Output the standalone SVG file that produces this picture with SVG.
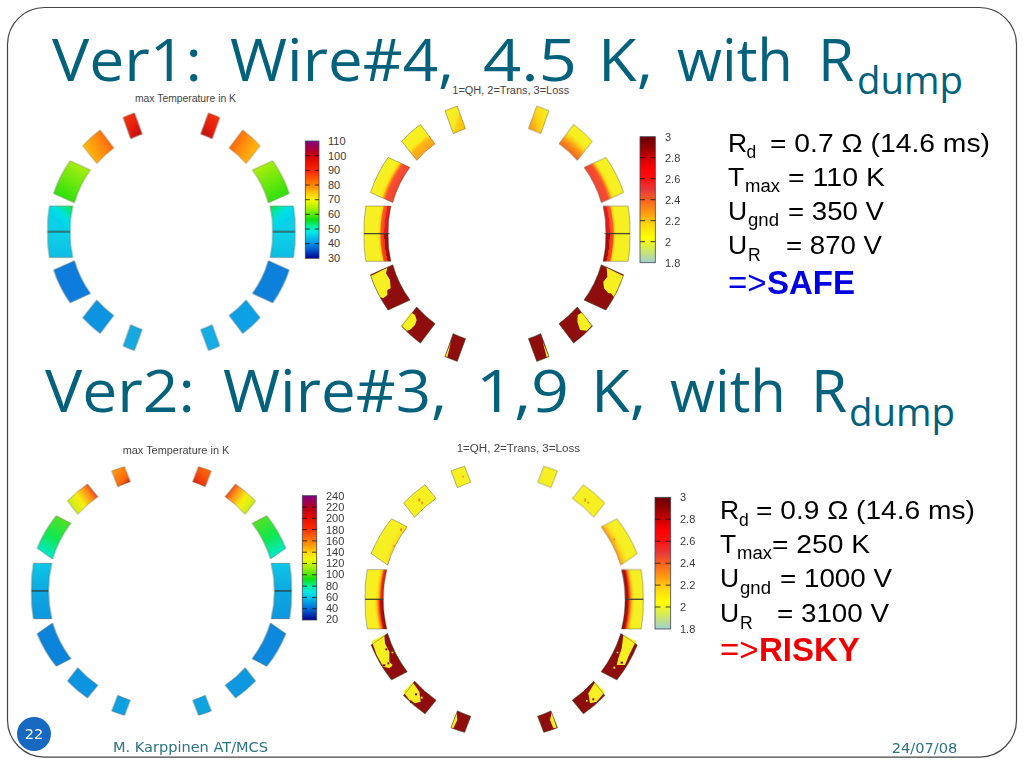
<svg xmlns="http://www.w3.org/2000/svg" width="1024" height="768" viewBox="0 0 1024 768">
<style>
.h{font-family:"Open Sans","Noto Sans",sans-serif;fill:#04617b;font-size:58.5px}
.hs{font-family:"Open Sans","Noto Sans",sans-serif;fill:#04617b;font-size:38px}
.t{font-family:"Liberation Sans",Arial,sans-serif;fill:#000;font-size:26.5px}
.ts{font-family:"Liberation Sans",Arial,sans-serif;fill:#000;font-size:17.5px}
.big{font-family:"Liberation Sans",Arial,sans-serif;font-size:33px}
.pt{font-family:"Liberation Sans",Arial,sans-serif;fill:#444;font-size:10px}
.cl{font-family:"Liberation Sans",Arial,sans-serif;fill:#3a3a3a;font-size:11px}
.f{font-family:"DejaVu Sans",sans-serif;fill:#2c7482;font-size:14px}
.b{stroke:#3a3a20;stroke-opacity:.5;stroke-width:.7}
.mid{stroke:#333;stroke-width:.9;fill:none}
.tick{stroke:#111;stroke-opacity:.75;stroke-width:1;fill:none}
.bar{stroke:#445;stroke-width:.8}
.y{fill:#f6f022}
.r{fill:#900808}
.o{fill:#f09018}
</style>
<defs>
<filter id="soft" x="-5%" y="-5%" width="110%" height="110%"><feGaussianBlur stdDeviation="0.35"/></filter>
<path id="a1" class="b" d="M-48.3-114.3A124 124 0 0 1-37-118.7L-29.3-97.7A102 102 0 0 0-40.7-93Z"/>
<path id="a2" class="b" d="M-88.7-86A124 124 0 0 1-71.3-101.7L-57.7-83.7A102 102 0 0 0-74.7-68.3Z"/>
<path id="a3" class="b" d="M-117.7-38.3A124 124 0 0 1-101.3-71L-81-61.7A102 102 0 0 0-97-29Z"/>
<path id="a4" class="b" d="M-122-25.7L-98.7-25.7A102 102 0 0 0-101.3 0L-123.7 0A124 124 0 0 1-122-25.7Z"/>
<path id="c1" class="b" d="M-49.7-120A130 130 0 0 1-37-124.3L-31.3-109.3A113.5 113.5 0 0 0-43.7-104.3Z"/>
<path id="c2" class="b" d="M-94-90A130 130 0 0 1-74-107L-63.7-94.3A113.5 113.5 0 0 0-83.7-76.7Z"/>
<path id="c3" class="b" d="M-124.3-42.7A130 130 0 0 1-105.3-75.3L-90.7-67.7A113.5 113.5 0 0 0-109-32Z"/>
<path id="c4" class="b" d="M-128-27.7L-109.7-27.7A113.5 113.5 0 0 0-113 0L-130 0A130 130 0 0 1-128-27.7Z"/>

<linearGradient id="tc" x1="0" y1="0" x2="0" y2="1">
<stop offset="0" stop-color="#800080"/><stop offset=".05" stop-color="#a00050"/><stop offset=".11" stop-color="#c00010"/><stop offset=".16" stop-color="#e00800"/><stop offset=".26" stop-color="#ff2800"/><stop offset=".38" stop-color="#ff8800"/><stop offset=".47" stop-color="#ffe000"/><stop offset=".51" stop-color="#f0f800"/><stop offset=".58" stop-color="#a0f000"/><stop offset=".67" stop-color="#10e010"/><stop offset=".73" stop-color="#00f0a0"/><stop offset=".78" stop-color="#00e8e8"/><stop offset=".85" stop-color="#00a8e8"/><stop offset=".92" stop-color="#0060d0"/><stop offset="1" stop-color="#000090"/>
</linearGradient>
<linearGradient id="lc" x1="0" y1="0" x2="0" y2="1">
<stop offset="0" stop-color="#6c0000"/><stop offset=".08" stop-color="#900000"/><stop offset=".17" stop-color="#d00000"/><stop offset=".25" stop-color="#ff0000"/><stop offset=".33" stop-color="#ff1010"/><stop offset=".42" stop-color="#e83838"/><stop offset=".5" stop-color="#f86020"/><stop offset=".6" stop-color="#ff9810"/><stop offset=".7" stop-color="#ffd810"/><stop offset=".8" stop-color="#ffff00"/><stop offset=".9" stop-color="#d0e860"/><stop offset="1" stop-color="#a0d0d0"/>
</linearGradient>

<linearGradient id="t1" x1="0" y1="0" x2="1" y2="1"><stop offset="0" stop-color="#f43c10"/><stop offset=".5" stop-color="#e82008"/><stop offset="1" stop-color="#b00810"/></linearGradient>
<linearGradient id="t2" x1="0" y1=".85" x2="1" y2=".3"><stop offset="0" stop-color="#ffcc10"/><stop offset=".5" stop-color="#ff9808"/><stop offset="1" stop-color="#ff5808"/></linearGradient>
<linearGradient id="t3" x1=".75" y1="0" x2=".25" y2="1"><stop offset="0" stop-color="#b8f008"/><stop offset="1" stop-color="#20e010"/></linearGradient>
<linearGradient id="t4" x1="1" y1="0" x2=".4" y2=".7"><stop offset="0" stop-color="#18e030"/><stop offset=".3" stop-color="#00e8a0"/><stop offset=".6" stop-color="#00e0e8"/><stop offset="1" stop-color="#08d0e8"/></linearGradient>
<linearGradient id="t5" x1="0" y1="0" x2="0" y2="1"><stop offset="0" stop-color="#10bce4"/><stop offset="1" stop-color="#08d4e8"/></linearGradient>

<linearGradient id="v1" x1="0" y1="0" x2="1" y2="1"><stop offset="0" stop-color="#ffa810"/><stop offset=".65" stop-color="#ff6808"/><stop offset="1" stop-color="#b00808"/></linearGradient>
<linearGradient id="v1r" x1="0" y1="0" x2="1" y2="1"><stop offset="0" stop-color="#ff7a08"/><stop offset=".7" stop-color="#f03808"/><stop offset="1" stop-color="#b81008"/></linearGradient>
<linearGradient id="v2" x1="0" y1="1" x2="1" y2=".3"><stop offset="0" stop-color="#a8e820"/><stop offset=".5" stop-color="#f8f010"/><stop offset=".78" stop-color="#ff9018"/><stop offset="1" stop-color="#e83020"/></linearGradient>
<linearGradient id="v3" x1=".7" y1="0" x2=".3" y2="1"><stop offset="0" stop-color="#58e020"/><stop offset=".5" stop-color="#10e850"/><stop offset="1" stop-color="#00e8e0"/></linearGradient>
<linearGradient id="v4" x1="0" y1="0" x2="0" y2="1"><stop offset="0" stop-color="#10c8e8"/><stop offset="1" stop-color="#08a8e0"/></linearGradient>
<linearGradient id="v5" x1="0" y1="0" x2="0" y2="1"><stop offset="0" stop-color="#0898e0"/><stop offset="1" stop-color="#08a8e0"/></linearGradient>

<radialGradient id="q4t" gradientUnits="userSpaceOnUse" cx="0" cy="0" r="124"><stop offset=".81" stop-color="#e01015"/><stop offset=".845" stop-color="#e82020"/><stop offset=".845" stop-color="#f04030"/><stop offset=".87" stop-color="#ff6020"/><stop offset=".88" stop-color="#ffd818"/><stop offset=".895" stop-color="#f6f022"/><stop offset="1" stop-color="#f6f022"/></radialGradient>
<radialGradient id="q4b" gradientUnits="userSpaceOnUse" cx="0" cy="0" r="124"><stop offset=".81" stop-color="#900808"/><stop offset=".845" stop-color="#b00808"/><stop offset=".845" stop-color="#e83020"/><stop offset=".87" stop-color="#ff5010"/><stop offset=".88" stop-color="#ffd818"/><stop offset=".895" stop-color="#f6f022"/><stop offset="1" stop-color="#f6f022"/></radialGradient>
<radialGradient id="q3" gradientUnits="userSpaceOnUse" cx="0" cy="0" r="124"><stop offset=".81" stop-color="#f04030"/><stop offset=".875" stop-color="#f85030"/><stop offset=".89" stop-color="#ff9018"/><stop offset=".905" stop-color="#ffe018"/><stop offset=".925" stop-color="#f6f022"/><stop offset="1" stop-color="#f6f022"/></radialGradient>
<radialGradient id="q2" gradientUnits="userSpaceOnUse" cx="0" cy="0" r="124"><stop offset=".81" stop-color="#ffa018"/><stop offset=".88" stop-color="#ffb818"/><stop offset=".9" stop-color="#ffe818"/><stop offset=".93" stop-color="#f6f022"/><stop offset="1" stop-color="#f6f022"/></radialGradient>
<radialGradient id="q2r" gradientUnits="userSpaceOnUse" cx="0" cy="0" r="124"><stop offset=".81" stop-color="#f06020"/><stop offset=".87" stop-color="#ff9818"/><stop offset=".9" stop-color="#ffd018"/><stop offset=".93" stop-color="#f6f022"/><stop offset="1" stop-color="#f6f022"/></radialGradient>
<linearGradient id="q1" x1="0" y1=".3" x2="1" y2=".7"><stop offset="0" stop-color="#f6f022"/><stop offset=".55" stop-color="#f6e820"/><stop offset=".62" stop-color="#ffd010"/><stop offset="1" stop-color="#ffc010"/></linearGradient>
<linearGradient id="q1r" x1="0" y1=".3" x2="1" y2=".7"><stop offset="0" stop-color="#f6f022"/><stop offset=".5" stop-color="#ffd818"/><stop offset="1" stop-color="#ff9818"/></linearGradient>

<radialGradient id="p4" gradientUnits="userSpaceOnUse" cx="0" cy="0" r="130"><stop offset=".87" stop-color="#d02010"/><stop offset=".885" stop-color="#e83018"/><stop offset=".9" stop-color="#ffb818"/><stop offset=".915" stop-color="#ffe818"/><stop offset=".93" stop-color="#f6f022"/><stop offset="1" stop-color="#f6f022"/></radialGradient>
<radialGradient id="p4r" gradientUnits="userSpaceOnUse" cx="0" cy="0" r="130"><stop offset=".87" stop-color="#900808"/><stop offset=".89" stop-color="#c01010"/><stop offset=".905" stop-color="#ff7010"/><stop offset=".92" stop-color="#ffd018"/><stop offset=".935" stop-color="#f6f022"/><stop offset="1" stop-color="#f6f022"/></radialGradient>
<radialGradient id="p3" gradientUnits="userSpaceOnUse" cx="0" cy="0" r="130"><stop offset=".87" stop-color="#ffc818"/><stop offset=".89" stop-color="#f6e820"/><stop offset=".92" stop-color="#f6f022"/><stop offset="1" stop-color="#f6f022"/></radialGradient>
<radialGradient id="p3r" gradientUnits="userSpaceOnUse" cx="0" cy="0" r="130"><stop offset=".87" stop-color="#ff9018"/><stop offset=".89" stop-color="#ffc018"/><stop offset=".91" stop-color="#f8e020"/><stop offset=".935" stop-color="#f6f022"/><stop offset="1" stop-color="#f6f022"/></radialGradient>
</defs>

<rect id="slide-frame" x="7.5" y="7.5" width="1009" height="749.6" rx="37" ry="37" fill="#fff" stroke="#444" stroke-width="1.2"/>

<g id="title-1">
<text class="h" y="80.5" x="52" textLength="150" lengthAdjust="spacingAndGlyphs">Ver1:</text>
<text class="h" y="80.5" x="230" textLength="224" lengthAdjust="spacingAndGlyphs">Wire#4,</text>
<text class="h" y="80.5" x="483" textLength="94" lengthAdjust="spacingAndGlyphs">4.5</text>
<text class="h" y="80.5" x="598" textLength="55" lengthAdjust="spacingAndGlyphs">K,</text>
<text class="h" y="80.5" x="677" textLength="116" lengthAdjust="spacingAndGlyphs">with</text>
<text class="h" y="80.5" x="818">R</text>
<text class="hs" x="857" y="93.5" textLength="106" lengthAdjust="spacingAndGlyphs">dump</text>
</g>
<g id="title-2">
<text class="h" y="412" x="45" textLength="150" lengthAdjust="spacingAndGlyphs">Ver2:</text>
<text class="h" y="412" x="223" textLength="224" lengthAdjust="spacingAndGlyphs">Wire#3,</text>
<text class="h" y="412" x="476" textLength="93" lengthAdjust="spacingAndGlyphs">1,9</text>
<text class="h" y="412" x="591" textLength="55" lengthAdjust="spacingAndGlyphs">K,</text>
<text class="h" y="412" x="670" textLength="116" lengthAdjust="spacingAndGlyphs">with</text>
<text class="h" y="412" x="811">R</text>
<text class="hs" x="849" y="426" textLength="106" lengthAdjust="spacingAndGlyphs">dump</text>
</g>

<g id="plot-temp-1">
<text class="pt" x="135" y="102" textLength="101" lengthAdjust="spacingAndGlyphs">max Temperature in K</text>
<g filter="url(#soft)" transform="translate(171.4,231.7)">
<use href="#a1" fill="url(#t1)"/><use href="#a2" fill="url(#t2)"/><use href="#a3" fill="url(#t3)"/><use href="#a4" fill="url(#t4)"/>
<use href="#a1" fill="url(#t1)" transform="scale(-1,1)"/><use href="#a2" fill="url(#t2)" transform="scale(-1,1)"/><use href="#a3" fill="url(#t3)" transform="scale(-1,1)"/><use href="#a4" fill="url(#t4)" transform="scale(-1,1)"/>
<use href="#a1" fill="#18a8e0" transform="scale(1,-1)"/><use href="#a2" fill="#1094e0" transform="scale(1,-1)"/><use href="#a3" fill="#0c7cdc" transform="scale(1,-1)"/><use href="#a4" fill="url(#t5)" transform="scale(1,-1)"/>
<use href="#a1" fill="#14ace4" transform="scale(-1,-1)"/><use href="#a2" fill="#10a0e4" transform="scale(-1,-1)"/><use href="#a3" fill="#0c80dc" transform="scale(-1,-1)"/><use href="#a4" fill="url(#t5)" transform="scale(-1,-1)"/>
<path class="mid" d="M-123.7 0H-101.3M101.3 0H123.7"/>
</g>
<rect class="bar" x="305.3" y="141" width="13.7" height="117.3" fill="url(#tc)"/>
<path class="tick" d="M305.3 155.7h4.5m5 0h4.2M305.3 170.3h4.5m5 0h4.2M305.3 185h4.5m5 0h4.2M305.3 199.7h4.5m5 0h4.2M305.3 214.3h4.5m5 0h4.2M305.3 229h4.5m5 0h4.2M305.3 243.7h4.5m5 0h4.2"/>
<g class="cl"><text x="328" y="145">110</text><text x="328" y="159.6">100</text><text x="328" y="174.2">90</text><text x="328" y="188.8">80</text><text x="328" y="203.4">70</text><text x="328" y="218">60</text><text x="328" y="232.6">50</text><text x="328" y="247.2">40</text><text x="328" y="261.8">30</text></g>
</g>

<g id="plot-loss-1">
<text class="pt" x="452.3" y="94" textLength="117" lengthAdjust="spacingAndGlyphs">1=QH, 2=Trans, 3=Loss</text>
<g filter="url(#soft)">
<g transform="translate(497,233.7) scale(1.075)">
<use href="#a1" fill="url(#q1)"/><use href="#a2" fill="url(#q2)"/><use href="#a3" fill="url(#q3)"/><use href="#a4" fill="url(#q4t)"/>
<use href="#a1" fill="url(#q1r)" transform="scale(-1,1)"/><use href="#a2" fill="url(#q2r)" transform="scale(-1,1)"/><use href="#a3" fill="url(#q3)" transform="scale(-1,1)"/><use href="#a4" fill="url(#q4t)" transform="scale(-1,1)"/>
<use href="#a1" class="r" transform="scale(1,-1)"/><use href="#a2" class="r" transform="scale(1,-1)"/><use href="#a3" class="r" transform="scale(1,-1)"/><use href="#a4" fill="url(#q4b)" transform="scale(1,-1)"/>
<use href="#a1" class="r" transform="scale(-1,-1)"/><use href="#a2" class="r" transform="scale(-1,-1)"/><use href="#a3" class="r" transform="scale(-1,-1)"/><use href="#a4" fill="url(#q4b)" transform="scale(-1,-1)"/>
</g>
<g transform="translate(350,80) scale(.33333)">
<polygon class="y" points="62,588 112,563 108,580 120,600 122,625 112,630 112,645 100,655 90,651 75.5,621"/>
<polygon class="y" points="820,588 770,563 772,590 760,605 762,625 775,640 782,640 792,651 806,621"/>
<polygon class="y" points="155,737 183,697 195,705 200,720 195,735 180,750 170,752"/>
<polygon class="y" points="725,737 697,697 683,705 682,725 690,750 710,752"/>
<polygon class="y" points="286,828 303,785 292,832"/>
<polygon class="y" points="578,785 596,828 590,832"/>
</g>
<g transform="translate(497,233.7) scale(1.075)" fill="none">
<use href="#a1" transform="scale(1,-1)"/><use href="#a2" transform="scale(1,-1)"/><use href="#a3" transform="scale(1,-1)"/>
<use href="#a1" transform="scale(-1,-1)"/><use href="#a2" transform="scale(-1,-1)"/><use href="#a3" transform="scale(-1,-1)"/>
<path class="mid" d="M-123.7 0H-100M100 0H123.7"/>
</g>
</g>
<rect class="bar" x="640" y="136.7" width="15.3" height="126" fill="url(#lc)"/>
<path class="tick" d="M640 157.7h5m5.5 0h4.8M640 178.7h5m5.5 0h4.8M640 199.7h5m5.5 0h4.8M640 220.7h5m5.5 0h4.8M640 241.7h5m5.5 0h4.8"/>
<g class="cl"><text x="665" y="141">3</text><text x="665" y="162">2.8</text><text x="665" y="183">2.6</text><text x="665" y="204">2.4</text><text x="665" y="225">2.2</text><text x="665" y="246">2</text><text x="665" y="267">1.8</text></g>
</g>

<g id="plot-temp-2">
<text class="pt" x="122.7" y="453.7" textLength="106.6" lengthAdjust="spacingAndGlyphs">max Temperature in K</text>
<g filter="url(#soft)" transform="translate(161.5,591)">
<use href="#c1" fill="url(#v1)"/><use href="#c2" fill="url(#v2)"/><use href="#c3" fill="url(#v3)"/><use href="#c4" fill="url(#v4)"/>
<use href="#c1" fill="url(#v1r)" transform="scale(-1,1)"/><use href="#c2" fill="url(#v2)" transform="scale(-1,1)"/><use href="#c3" fill="url(#v3)" transform="scale(-1,1)"/><use href="#c4" fill="url(#v4)" transform="scale(-1,1)"/>
<use href="#c1" fill="#10a0e0" transform="scale(1,-1)"/><use href="#c2" fill="#0c94e0" transform="scale(1,-1)"/><use href="#c3" fill="#0c84dc" transform="scale(1,-1)"/><use href="#c4" fill="url(#v5)" transform="scale(1,-1)"/>
<use href="#c1" fill="#10a4e0" transform="scale(-1,-1)"/><use href="#c2" fill="#0c98e0" transform="scale(-1,-1)"/><use href="#c3" fill="#0c88dc" transform="scale(-1,-1)"/><use href="#c4" fill="url(#v5)" transform="scale(-1,-1)"/>
<path class="mid" d="M-130 0H-113M113 0H130"/>
</g>
<rect class="bar" x="302.3" y="495.7" width="14.4" height="124.3" fill="url(#tc)"/>
<path class="tick" d="M302.3 507h4.7m5 0h4.7M302.3 518.3h4.7m5 0h4.7M302.3 529.6h4.7m5 0h4.7M302.3 540.9h4.7m5 0h4.7M302.3 552.2h4.7m5 0h4.7M302.3 563.5h4.7m5 0h4.7M302.3 574.8h4.7m5 0h4.7M302.3 586.1h4.7m5 0h4.7M302.3 597.4h4.7m5 0h4.7M302.3 608.7h4.7m5 0h4.7"/>
<g class="cl"><text x="326" y="500">240</text><text x="326" y="511.2">220</text><text x="326" y="522.4">200</text><text x="326" y="533.6">180</text><text x="326" y="544.8">160</text><text x="326" y="556">140</text><text x="326" y="567.2">120</text><text x="326" y="578.4">100</text><text x="326" y="589.6">80</text><text x="326" y="600.8">60</text><text x="326" y="612">40</text><text x="326" y="623.2">20</text></g>
</g>

<g id="plot-loss-2">
<text class="pt" x="456.7" y="452.3" textLength="123.3" lengthAdjust="spacingAndGlyphs">1=QH, 2=Trans, 3=Loss</text>
<g filter="url(#soft)">
<g transform="translate(504.2,599.3) scale(1.07)">
<use href="#c1" class="y"/><use href="#c2" class="y"/><use href="#c3" fill="url(#p3)"/><use href="#c4" fill="url(#p4)"/>
<use href="#c1" class="y" transform="scale(-1,1)"/><use href="#c2" class="y" transform="scale(-1,1)"/><use href="#c3" fill="url(#p3r)" transform="scale(-1,1)"/><use href="#c4" fill="url(#p4r)" transform="scale(-1,1)"/>
<use href="#c1" class="r" transform="scale(1,-1)"/><use href="#c2" class="r" transform="scale(1,-1)"/><use href="#c3" class="r" transform="scale(1,-1)"/><use href="#c4" fill="url(#p4r)" transform="scale(1,-1)"/>
<use href="#c1" class="r" transform="scale(-1,-1)"/><use href="#c2" class="r" transform="scale(-1,-1)"/><use href="#c3" class="r" transform="scale(-1,-1)"/><use href="#c4" fill="url(#p4r)" transform="scale(-1,-1)"/>
</g>
<g transform="translate(350,435) scale(.33333)">
<polygon class="y" points="65,618 103,600 105,625 118,650 118,680 128,690 118,700 100,695 80,660"/>
<polygon class="y" points="858,618 820,600 815,640 805,670 800,690 825,690 835,665"/>
<polygon class="y" points="160,770 188,742 208,770 212,800 195,805 178,795"/>
<polygon class="y" points="765,770 735,742 715,775 720,805 740,800"/>
<polygon class="y" points="303,878 320,833 322,855 310,880"/>
<polygon class="y" points="605,832 620,878 610,880 600,855"/>
<g class="r"><rect x="98" y="688" width="8" height="6"/><rect x="112" y="682" width="6" height="6"/><rect x="106" y="640" width="6" height="6"/><rect x="812" y="680" width="7" height="6"/><rect x="180" y="797" width="7" height="6"/><rect x="195" y="775" width="6" height="6"/><rect x="727" y="790" width="6" height="6"/></g>
<g class="y"><rect x="118" y="690" width="6" height="6"/><rect x="125" y="650" width="5" height="5"/><rect x="790" y="695" width="6" height="6"/><rect x="800" y="650" width="5" height="5"/><rect x="212" y="785" width="6" height="6"/><rect x="708" y="795" width="5" height="5"/></g>
<g class="o"><rect x="205" y="190" width="6" height="10"/><rect x="214" y="200" width="5" height="8"/><rect x="703" y="190" width="5" height="10"/><rect x="712" y="200" width="5" height="6"/><rect x="150" y="280" width="6" height="8"/><rect x="130" y="330" width="5" height="6"/><rect x="790" y="310" width="5" height="7"/><rect x="337" y="122" width="4" height="6"/></g>
</g>
<g transform="translate(504.2,599.3) scale(1.07)" fill="none">
<use href="#c1" transform="scale(1,-1)"/><use href="#c2" transform="scale(1,-1)"/><use href="#c3" transform="scale(1,-1)"/>
<use href="#c1" transform="scale(-1,-1)"/><use href="#c2" transform="scale(-1,-1)"/><use href="#c3" transform="scale(-1,-1)"/>
<path class="mid" d="M-130 0H-113M113 0H130"/>
</g>
</g>
<rect class="bar" x="655" y="497.3" width="15.7" height="131.7" fill="url(#lc)"/>
<path class="tick" d="M655 519.2h5.5m5 0h5.2M655 541.2h5.5m5 0h5.2M655 563.2h5.5m5 0h5.2M655 585.1h5.5m5 0h5.2M655 607h5.5m5 0h5.2"/>
<g class="cl"><text x="680" y="501">3</text><text x="680" y="523">2.8</text><text x="680" y="545">2.6</text><text x="680" y="567">2.4</text><text x="680" y="589">2.2</text><text x="680" y="611">2</text><text x="680" y="633">1.8</text></g>
</g>

<g id="values-1">
<text class="t" x="728" y="152">R</text><text class="ts" x="746.5" y="158">d</text><text class="t" x="770" y="152" textLength="220" lengthAdjust="spacingAndGlyphs">= 0.7 Ω (14.6 ms)</text>
<text class="t" x="728" y="186">T</text><text class="ts" x="745" y="192" textLength="35" lengthAdjust="spacingAndGlyphs">max</text><text class="t" x="788" y="186" textLength="97" lengthAdjust="spacingAndGlyphs">= 110 K</text>
<text class="t" x="728" y="220">U</text><text class="ts" x="748" y="226" textLength="31" lengthAdjust="spacingAndGlyphs">gnd</text><text class="t" x="788" y="220" textLength="96" lengthAdjust="spacingAndGlyphs">= 350 V</text>
<text class="t" x="728" y="254.3">U</text><text class="ts" x="748" y="261">R</text><text class="t" x="786" y="254.3" textLength="96" lengthAdjust="spacingAndGlyphs">= 870 V</text>
<text class="big" x="728" y="294" fill="#0000e0">=&gt;<tspan font-weight="700" x="767">SAFE</tspan></text>
</g>
<g id="values-2">
<text class="t" x="720" y="519.3">R</text><text class="ts" x="739" y="526">d</text><text class="t" x="756" y="519.3" textLength="219" lengthAdjust="spacingAndGlyphs">= 0.9 Ω (14.6 ms)</text>
<text class="t" x="720" y="553.3">T</text><text class="ts" x="737" y="559.3" textLength="35" lengthAdjust="spacingAndGlyphs">max</text><text class="t" x="772" y="553.3" textLength="98" lengthAdjust="spacingAndGlyphs">= 250 K</text>
<text class="t" x="720" y="587.3">U</text><text class="ts" x="740" y="594" textLength="31" lengthAdjust="spacingAndGlyphs">gnd</text><text class="t" x="780" y="587.3" textLength="112" lengthAdjust="spacingAndGlyphs">= 1000 V</text>
<text class="t" x="720" y="621.7">U</text><text class="ts" x="740" y="628.6">R</text><text class="t" x="777" y="621.7" textLength="112" lengthAdjust="spacingAndGlyphs">= 3100 V</text>
<text class="big" x="720" y="660.7" fill="#ee0000">=&gt;<tspan font-weight="700" x="759">RISKY</tspan></text>
</g>

<g id="footer">
<circle cx="34" cy="734" r="17" fill="#1668c0"/>
<text x="34" y="739" text-anchor="middle" font-family="DejaVu Sans, sans-serif" font-size="14.5" fill="#fff">22</text>
<text class="f" x="113" y="752" textLength="155" lengthAdjust="spacingAndGlyphs">M. Karppinen AT/MCS</text>
<text class="f" x="891.7" y="752.5" textLength="65.6" lengthAdjust="spacingAndGlyphs">24/07/08</text>
</g>
</svg>
